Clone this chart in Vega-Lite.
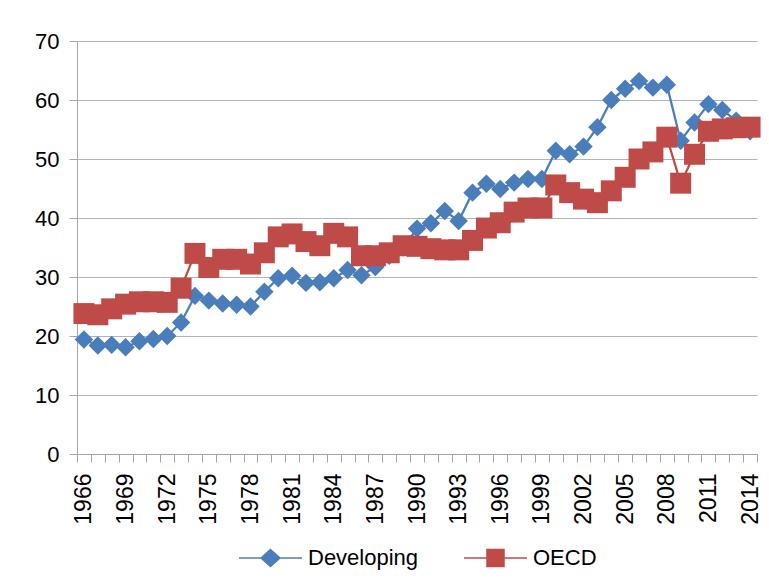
{
  "$schema": "https://vega.github.io/schema/vega-lite/v6.json",
  "width": 680,
  "height": 413,
  "padding": {"left": 34, "top": 30, "right": 10, "bottom": 5},
  "background": "white",
  "config": {
    "font": "Liberation Sans",
    "view": {"stroke": null},
    "legend": {"layout": {"bottom": {"anchor": "middle"}}}
  },
  "datasets": {
    "d": [
      {"year": 1966, "series": "Developing", "value": 19.4},
      {"year": 1967, "series": "Developing", "value": 18.4},
      {"year": 1968, "series": "Developing", "value": 18.5},
      {"year": 1969, "series": "Developing", "value": 18.1},
      {"year": 1970, "series": "Developing", "value": 19.1},
      {"year": 1971, "series": "Developing", "value": 19.5},
      {"year": 1972, "series": "Developing", "value": 20.0},
      {"year": 1973, "series": "Developing", "value": 22.3},
      {"year": 1974, "series": "Developing", "value": 26.8},
      {"year": 1975, "series": "Developing", "value": 26.0},
      {"year": 1976, "series": "Developing", "value": 25.5},
      {"year": 1977, "series": "Developing", "value": 25.3},
      {"year": 1978, "series": "Developing", "value": 25.0},
      {"year": 1979, "series": "Developing", "value": 27.5},
      {"year": 1980, "series": "Developing", "value": 29.8},
      {"year": 1981, "series": "Developing", "value": 30.2},
      {"year": 1982, "series": "Developing", "value": 29.0},
      {"year": 1983, "series": "Developing", "value": 29.1},
      {"year": 1984, "series": "Developing", "value": 29.8},
      {"year": 1985, "series": "Developing", "value": 31.2},
      {"year": 1986, "series": "Developing", "value": 30.3},
      {"year": 1987, "series": "Developing", "value": 31.7},
      {"year": 1988, "series": "Developing", "value": 33.6},
      {"year": 1989, "series": "Developing", "value": 35.0},
      {"year": 1990, "series": "Developing", "value": 38.2},
      {"year": 1991, "series": "Developing", "value": 39.1},
      {"year": 1992, "series": "Developing", "value": 41.2},
      {"year": 1993, "series": "Developing", "value": 39.5},
      {"year": 1994, "series": "Developing", "value": 44.3},
      {"year": 1995, "series": "Developing", "value": 45.8},
      {"year": 1996, "series": "Developing", "value": 44.9},
      {"year": 1997, "series": "Developing", "value": 46.0},
      {"year": 1998, "series": "Developing", "value": 46.6},
      {"year": 1999, "series": "Developing", "value": 46.6},
      {"year": 2000, "series": "Developing", "value": 51.4},
      {"year": 2001, "series": "Developing", "value": 50.8},
      {"year": 2002, "series": "Developing", "value": 52.1},
      {"year": 2003, "series": "Developing", "value": 55.4},
      {"year": 2004, "series": "Developing", "value": 60.0},
      {"year": 2005, "series": "Developing", "value": 61.9},
      {"year": 2006, "series": "Developing", "value": 63.2},
      {"year": 2007, "series": "Developing", "value": 62.1},
      {"year": 2008, "series": "Developing", "value": 62.6},
      {"year": 2009, "series": "Developing", "value": 53.1},
      {"year": 2010, "series": "Developing", "value": 56.2},
      {"year": 2011, "series": "Developing", "value": 59.3},
      {"year": 2012, "series": "Developing", "value": 58.3},
      {"year": 2013, "series": "Developing", "value": 56.5},
      {"year": 2014, "series": "Developing", "value": 54.7},
      {"year": 1966, "series": "OECD", "value": 23.8},
      {"year": 1967, "series": "OECD", "value": 23.6},
      {"year": 1968, "series": "OECD", "value": 24.6},
      {"year": 1969, "series": "OECD", "value": 25.4},
      {"year": 1970, "series": "OECD", "value": 25.8},
      {"year": 1971, "series": "OECD", "value": 25.8},
      {"year": 1972, "series": "OECD", "value": 25.7},
      {"year": 1973, "series": "OECD", "value": 28.1},
      {"year": 1974, "series": "OECD", "value": 34.0},
      {"year": 1975, "series": "OECD", "value": 31.6},
      {"year": 1976, "series": "OECD", "value": 33.0},
      {"year": 1977, "series": "OECD", "value": 33.0},
      {"year": 1978, "series": "OECD", "value": 32.2},
      {"year": 1979, "series": "OECD", "value": 34.1},
      {"year": 1980, "series": "OECD", "value": 36.8},
      {"year": 1981, "series": "OECD", "value": 37.3},
      {"year": 1982, "series": "OECD", "value": 36.0},
      {"year": 1983, "series": "OECD", "value": 35.3},
      {"year": 1984, "series": "OECD", "value": 37.4},
      {"year": 1985, "series": "OECD", "value": 36.8},
      {"year": 1986, "series": "OECD", "value": 33.6},
      {"year": 1987, "series": "OECD", "value": 33.6},
      {"year": 1988, "series": "OECD", "value": 34.1},
      {"year": 1989, "series": "OECD", "value": 35.3},
      {"year": 1990, "series": "OECD", "value": 35.2},
      {"year": 1991, "series": "OECD", "value": 34.8},
      {"year": 1992, "series": "OECD", "value": 34.6},
      {"year": 1993, "series": "OECD", "value": 34.6},
      {"year": 1994, "series": "OECD", "value": 36.2},
      {"year": 1995, "series": "OECD", "value": 38.3},
      {"year": 1996, "series": "OECD", "value": 39.2},
      {"year": 1997, "series": "OECD", "value": 41.0},
      {"year": 1998, "series": "OECD", "value": 41.7},
      {"year": 1999, "series": "OECD", "value": 41.7},
      {"year": 2000, "series": "OECD", "value": 45.6},
      {"year": 2001, "series": "OECD", "value": 44.3},
      {"year": 2002, "series": "OECD", "value": 43.2},
      {"year": 2003, "series": "OECD", "value": 42.6},
      {"year": 2004, "series": "OECD", "value": 44.6},
      {"year": 2005, "series": "OECD", "value": 46.9},
      {"year": 2006, "series": "OECD", "value": 50.0},
      {"year": 2007, "series": "OECD", "value": 51.2},
      {"year": 2008, "series": "OECD", "value": 53.7},
      {"year": 2009, "series": "OECD", "value": 45.9},
      {"year": 2010, "series": "OECD", "value": 50.8},
      {"year": 2011, "series": "OECD", "value": 54.7},
      {"year": 2012, "series": "OECD", "value": 55.1},
      {"year": 2013, "series": "OECD", "value": 55.3},
      {"year": 2014, "series": "OECD", "value": 55.4}
    ]
  },
  "data": {"name": "d"},
  "encoding": {
    "x": {
      "field": "year",
      "type": "ordinal",
      "scale": {"type": "band", "paddingInner": 0, "paddingOuter": 0},
      "axis": {
        "title": null,
        "labelAngle": -90,
        "labelFontSize": 23,
        "labelColor": "#000000",
        "labelExpr": "(+datum.value - 1966) % 3 === 0 ? datum.label : ''",
        "labelPadding": 11,
        "tickBand": "extent",
        "tickColor": "#a6a6a6",
        "tickSize": 8,
        "domainColor": "#a6a6a6",
        "grid": false
      }
    },
    "y": {
      "field": "value",
      "type": "quantitative",
      "scale": {"domain": [0, 70]},
      "axis": {
        "title": null,
        "values": [0, 10, 20, 30, 40, 50, 60, 70],
        "labelFontSize": 22,
        "labelColor": "#000000",
        "labelPadding": 10,
        "tickSize": 8,
        "tickColor": "#a6a6a6",
        "domainColor": "#a6a6a6",
        "gridColor": "#b4b4b4",
        "gridWidth": 1.2
      }
    },
    "color": {
      "field": "series",
      "type": "nominal",
      "scale": {"domain": ["Developing", "OECD"], "range": ["#4a7ebb", "#be4b48"]},
      "legend": {
        "title": null,
        "orient": "bottom",
        "direction": "horizontal",
        "labelFontSize": 22,
        "labelColor": "#000000",
        "symbolSize": 3969,
        "symbolStrokeWidth": 1.5,
        "labelOffset": 5,
        "columnPadding": 42,
        "offset": 0,
        "encode": {
          "symbols": {
            "update": {
              "shape": {"signal": "datum.value === 'Developing' ? 'M-1,0H1M0,-0.27L0.3,0L0,0.27L-0.3,0Z' : 'M-1,0H1M-0.27,-0.27H0.27V0.27H-0.27Z'"},
              "fill": {"signal": "datum.value === 'Developing' ? '#4a7ebb' : '#be4b48'"},
              "stroke": {"signal": "datum.value === 'Developing' ? '#4a7ebb' : '#be4b48'"},
              "opacity": {"value": 1},
              "fillOpacity": {"value": 1}
            }
          }
        }
      }
    }
  },
  "layer": [
    {
      "transform": [{"filter": "datum.series === 'Developing'"}],
      "mark": {"type": "line", "strokeWidth": 2.25, "point": {"shape": "diamond", "size": 340, "filled": true, "opacity": 1}}
    },
    {
      "transform": [{"filter": "datum.series === 'OECD'"}],
      "mark": {"type": "line", "strokeWidth": 2.25, "point": {"shape": "square", "size": 440, "filled": true, "opacity": 1}}
    }
  ]
}
